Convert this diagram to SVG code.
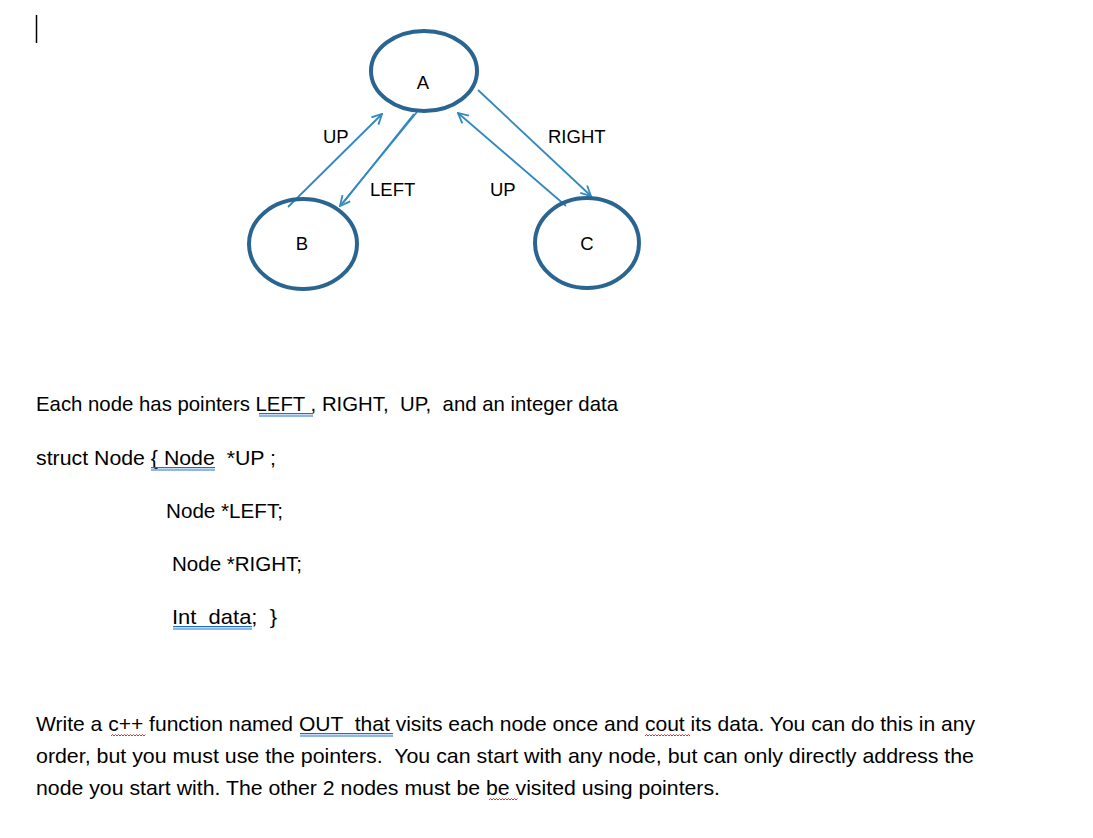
<svg xmlns="http://www.w3.org/2000/svg" width="1093" height="838" viewBox="0 0 1093 838">
<defs>
<style>
.node{fill:none;stroke:#2a6591;stroke-width:4}
.edge{fill:none;stroke:#3288c0;stroke-width:1.8}
.t{font-family:"Liberation Sans",Arial,sans-serif;fill:#000}
.lbl{font-size:18.5px}
.body{font-size:21px}
.dbl{stroke:#1f6fd0;stroke-width:1.2;fill:none}
.wavy{stroke:#e03030;stroke-width:1;fill:none}
</style>
<marker id="ah" viewBox="0 0 12 12" refX="11" refY="6" markerWidth="12" markerHeight="12" markerUnits="userSpaceOnUse" orient="auto">
<path d="M1,1 L11,6 L1,11" fill="none" stroke="#3288c0" stroke-width="1.8"/>
</marker>
</defs>
<rect width="1093" height="838" fill="#fff"/>
<line x1="36.5" y1="15" x2="36.5" y2="43" stroke="#000" stroke-width="1.5"/>
<g id="connectors">
<line class="edge" x1="288" y1="207" x2="382" y2="114" marker-end="url(#ah)"/>
<line class="edge" x1="417" y1="112" x2="340" y2="206" marker-end="url(#ah)"/>
<line class="edge" x1="414" y1="114" x2="343" y2="203"/>
<line class="edge" x1="566" y1="206" x2="458" y2="113" marker-end="url(#ah)"/>
<line class="edge" x1="478" y1="90" x2="591" y2="196" marker-end="url(#ah)"/>
<text class="t lbl" x="323" y="143">UP</text>
<text class="t lbl" x="370" y="196">LEFT</text>
<text class="t lbl" x="490" y="196">UP</text>
<text class="t lbl" x="548" y="143">RIGHT</text>
</g>
<g id="node-A">
<ellipse class="node" cx="424" cy="71" rx="53" ry="40"/>
<text class="t lbl" x="423" y="89" text-anchor="middle">A</text>
</g>
<g id="node-B">
<ellipse class="node" cx="303" cy="244" rx="54" ry="45"/>
<text class="t lbl" x="302" y="250" text-anchor="middle">B</text>
</g>
<g id="node-C">
<ellipse class="node" cx="587" cy="243" rx="52" ry="45"/>
<text class="t lbl" x="587" y="250" text-anchor="middle">C</text>
</g>
<g id="text">
<text class="t body" x="36" y="411" textLength="582" lengthAdjust="spacingAndGlyphs" xml:space="preserve">Each node has pointers LEFT , RIGHT,  UP,  and an integer data</text>
<path class="dbl" d="M259,413.7 H313 M259,416 H313"/>
<text class="t body" x="36" y="465" textLength="240" lengthAdjust="spacingAndGlyphs" xml:space="preserve">struct Node { Node  *UP ;</text>
<path class="dbl" d="M151,467.7 H215 M151,470 H215"/>
<text class="t body" x="166" y="518" textLength="117" lengthAdjust="spacingAndGlyphs">Node *LEFT;</text>
<text class="t body" x="172" y="571" textLength="130" lengthAdjust="spacingAndGlyphs">Node *RIGHT;</text>
<text class="t body" x="172" y="624" textLength="105" lengthAdjust="spacingAndGlyphs" xml:space="preserve">Int  data;  }</text>
<path class="dbl" d="M173,626.7 H252 M173,629 H252"/>
<text class="t body" x="36" y="731" textLength="939" lengthAdjust="spacingAndGlyphs" xml:space="preserve">Write a c++ function named OUT  that visits each node once and cout its data. You can do this in any</text>
<path class="dbl" d="M300,733.7 H393 M300,736 H393"/>
<path class="wavy" d="M111,736 l1.5,-1.5 l1.5,1.5 l1.5,-1.5 l1.5,1.5 l1.5,-1.5 l1.5,1.5 l1.5,-1.5 l1.5,1.5 l1.5,-1.5 l1.5,1.5 l1.5,-1.5 l1.5,1.5 l1.5,-1.5 l1.5,1.5 l1.5,-1.5 l1.5,1.5 l1.5,-1.5 l1.5,1.5 l1.5,-1.5 l1.5,1.5 l1.5,-1.5 l1.5,1.5 l1.5,-1.5"/>
<path class="wavy" d="M645,736 l1.5,-1.5 l1.5,1.5 l1.5,-1.5 l1.5,1.5 l1.5,-1.5 l1.5,1.5 l1.5,-1.5 l1.5,1.5 l1.5,-1.5 l1.5,1.5 l1.5,-1.5 l1.5,1.5 l1.5,-1.5 l1.5,1.5 l1.5,-1.5 l1.5,1.5 l1.5,-1.5 l1.5,1.5 l1.5,-1.5 l1.5,1.5 l1.5,-1.5 l1.5,1.5 l1.5,-1.5 l1.5,1.5 l1.5,-1.5 l1.5,1.5 l1.5,-1.5 l1.5,1.5 l1.5,-1.5 l1.5,1.5"/>
<text class="t body" x="36" y="763" textLength="938" lengthAdjust="spacingAndGlyphs" xml:space="preserve">order, but you must use the pointers.  You can start with any node, but can only directly address the</text>
<text class="t body" x="36" y="795" textLength="684" lengthAdjust="spacingAndGlyphs">node you start with. The other 2 nodes must be be visited using pointers.</text>
<path class="wavy" d="M489,800 l1.5,-1.5 l1.5,1.5 l1.5,-1.5 l1.5,1.5 l1.5,-1.5 l1.5,1.5 l1.5,-1.5 l1.5,1.5 l1.5,-1.5 l1.5,1.5 l1.5,-1.5 l1.5,1.5 l1.5,-1.5 l1.5,1.5 l1.5,-1.5 l1.5,1.5 l1.5,-1.5 l1.5,1.5 l1.5,-1.5"/>
</g>
</svg>
